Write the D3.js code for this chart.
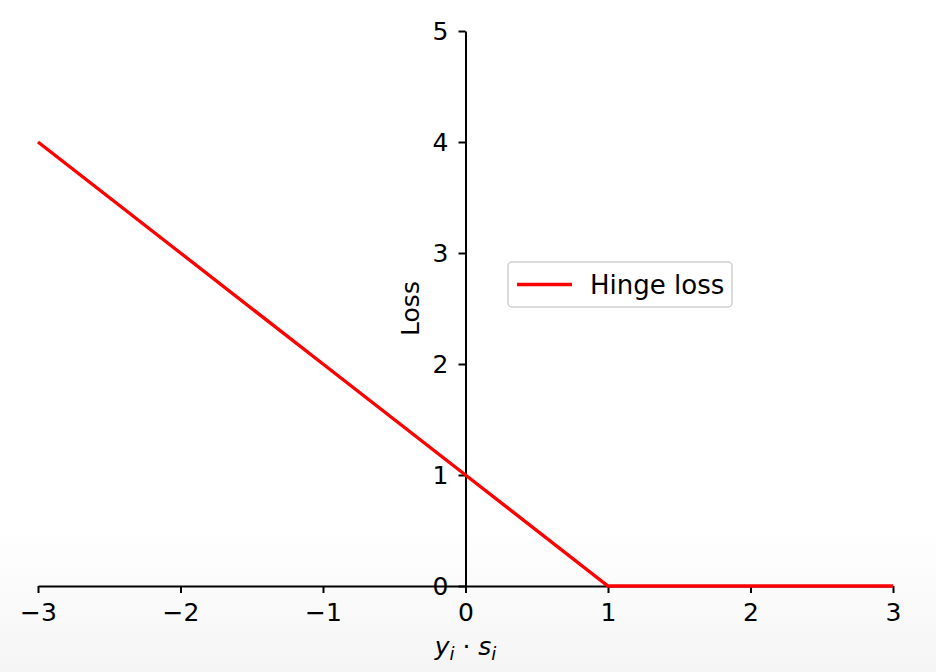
<!DOCTYPE html>
<html>
<head>
<meta charset="utf-8">
<script src="https://cdn.jsdelivr.net/npm/d3@7"></script>
<style>
  body { margin: 0; background: #fff; }
  svg { display: block; font-family: "DejaVu Sans", sans-serif; }
</style>
</head>
<body>
<div id="chart"></div>
<script>
const width = 936,
height = 672,
margin = ({ top: 31, right: 43, bottom: 86, left: 38 });

// hinge loss
const margins = [-3, -2, -1, 0, 1, 2, 3];
const loss = [4, 3, 2, 1, 0, 0, 0];
const xTicks = [-3, -2, -1, 0, 1, 2, 3];
const yTicks = [0, 1, 2, 3, 4, 5];

const svg = d3.select("#chart")
    .append("svg")
    .attr("width", width)
    .attr("height", height);

// faint grey fade at the bottom of the picture
const grad = svg.append("defs").append("linearGradient")
    .attr("id", "bg")
    .attr("x1", 0).attr("x2", 0).attr("y1", 0).attr("y2", 1);
grad.append("stop").attr("offset", "0.78").attr("stop-color", "#ffffff");
grad.append("stop").attr("offset", "1").attr("stop-color", "#f5f5f5");
svg.append("rect")
    .attr("width", width)
    .attr("height", height)
    .attr("fill", "url(#bg)");

let x = d3.scaleLinear()
    .domain([-3, 3])
    .range([margin.left, width - margin.right]);

let y = d3.scaleLinear()
    .domain([0, 5])
    .range([height - margin.bottom, margin.top]);

// spines go through the origin
svg.append("g")
    .attr("transform", `translate(${x(0)},0)`)
    .call(d3.axisLeft(y)
        .tickValues(yTicks)
        .tickFormat(d3.format("d"))
        .tickSize(7)
        .tickPadding(10)
        .tickSizeOuter(0))
    .call(g => g.selectAll("line, path").attr("stroke", "#000").attr("stroke-width", 2))
    .call(g => g.selectAll(".tick text").attr("font-family", "DejaVu Sans").attr("font-size", 25).attr("fill", "#000"));

svg.append("g")
    .attr("transform", `translate(0,${y(0)})`)
    .call(d3.axisBottom(x)
        .tickValues(xTicks)
        .tickFormat(d => d < 0 ? "\u2212" + Math.abs(d) : d)
        .tickSize(7)
        .tickPadding(10)
        .tickSizeOuter(0))
    .call(g => g.selectAll("line, path").attr("stroke", "#000").attr("stroke-width", 2))
    .call(g => g.selectAll(".tick text").attr("font-family", "DejaVu Sans").attr("font-size", 25).attr("fill", "#000"));

let line = d3.line()
    .x((d, i) => x(margins[i]))
    .y(d => y(d));

svg.append("path")
    .datum(loss)
    .attr("fill", "none")
    .attr("stroke", "#ff0000")
    .attr("stroke-width", 3.4)
    .attr("d", line);

// axis labels
svg.append("text")
    .attr("transform", `translate(419,${(y(0) + y(5)) / 2}) rotate(-90)`)
    .attr("text-anchor", "middle")
    .attr("font-size", 25)
    .text("Loss");

let xl = svg.append("text")
    .attr("x", x(0))
    .attr("y", 655)
    .attr("text-anchor", "middle")
    .attr("font-size", 25)
    .attr("font-family", "DejaVu Sans");
xl.append("tspan").attr("font-style", "italic").text("y");
xl.append("tspan").attr("font-style", "italic").attr("font-size", 18).attr("dy", 5).text("i");
xl.append("tspan").attr("dy", -5).text(" \u00b7 ");
xl.append("tspan").attr("font-style", "italic").text("s");
xl.append("tspan").attr("font-style", "italic").attr("font-size", 18).attr("dy", 5).text("i");

// legend
let lg = svg.append("g").attr("transform", "translate(508,262)");
lg.append("rect")
    .attr("width", 224)
    .attr("height", 45)
    .attr("rx", 4)
    .attr("fill", "#fff")
    .attr("fill-opacity", 0.8)
    .attr("stroke", "#d0d0d0")
    .attr("stroke-width", 1.5);
lg.append("line")
    .attr("x1", 9).attr("x2", 64)
    .attr("y1", 22.5).attr("y2", 22.5)
    .attr("stroke", "#ff0000")
    .attr("stroke-width", 3.4);
lg.append("text")
    .attr("x", 82)
    .attr("y", 22.5)
    .attr("dominant-baseline", "central")
    .attr("font-size", 26)
    .text("Hinge loss");
</script>
</body>
</html>
